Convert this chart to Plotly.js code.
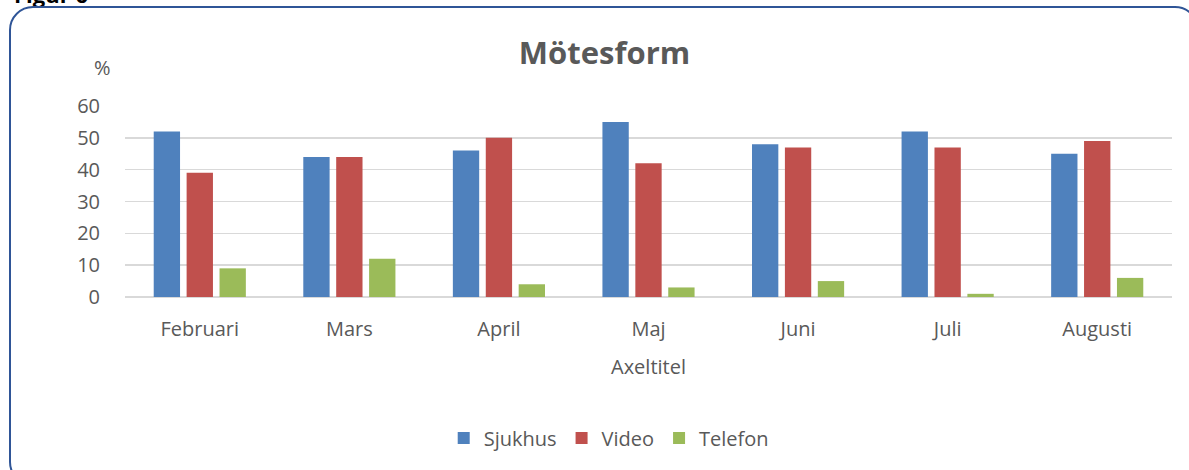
<!DOCTYPE html>
<html>
<head>
<meta charset="utf-8">
<script src="https://cdn.plot.ly/plotly-3.0.1.min.js"></script>
<style>
  html, body { margin: 0; padding: 0; background: #fff; overflow: hidden; }
  #wrap { position: relative; width: 1189px; height: 470px; overflow: hidden; background: #fff; }
  #frame { position: absolute; left: 9px; top: 6px; width: 1190px; height: 480px;
           border: 2.5px solid #2F5597; border-radius: 24px; box-sizing: border-box; }
  #fig { position: absolute; left: 0; top: 0; width: 1189px; height: 470px; }
  #cut { position: absolute; left: 14px; top: -21px; font: bold 22px "Open Sans", sans-serif; color: #000; }
</style>
</head>
<body>
<div id="wrap">
  <div id="cut">Figur 6</div>
  <div id="frame"></div>
  <div id="fig"></div>
</div>
<script>
const categories = ["Februari", "Mars", "April", "Maj", "Juni", "Juli", "Augusti"];
const sjukhus = [52, 44, 46, 55, 48, 52, 45];
const video   = [39, 44, 50, 42, 47, 47, 49];
const telefon = [9, 12, 4, 3, 5, 1, 6];
const seriesNames = ["Sjukhus", "Video", "Telefon"];
const yTicks = [0, 10, 20, 30, 40, 50, 60];

const colors = ["#4F81BD", "#C0504D", "#9BBB59"];
const fontFam = "'Open Sans', 'Liberation Sans', sans-serif";
const grey = "#595959";

const traces = [sjukhus, video, telefon].map((vals, i) => ({
  type: "bar",
  name: seriesNames[i],
  x: categories,
  y: vals,
  marker: { color: colors[i] },
  hoverinfo: "skip"
}));

const layout = {
  width: 1189, height: 470,
  margin: { l: 125, r: 17, t: 106, b: 173 },
  paper_bgcolor: "rgba(0,0,0,0)",
  plot_bgcolor: "rgba(0,0,0,0)",
  barmode: "group",
  bargap: 0.34,
  bargroupgap: 0.2,
  font: { family: fontFam, color: grey, size: 20 },
  title: { text: "<b>Mötesform</b>", x: 0.458, xref: "paper", xanchor: "center",
           y: 52, yref: "container", yanchor: "middle",
           font: { family: fontFam, size: 31, color: grey } },
  xaxis: {
    type: "category",
    tickfont: { family: fontFam, size: 20, color: grey },
    ticks: "outside", ticklen: 14, tickcolor: "rgba(0,0,0,0)",
    showgrid: false, zeroline: false, showline: false,
    title: { text: "Axeltitel", standoff: 18, font: { family: fontFam, size: 20, color: grey } }
  },
  yaxis: {
    range: [0, 60],
    tickvals: yTicks,
    ticktext: yTicks.map(String),
    tickfont: { family: fontFam, size: 20, color: grey },
    showgrid: true, gridcolor: "#D9D9D9", gridwidth: 1.5,
    zeroline: true, zerolinecolor: "#D9D9D9", zerolinewidth: 1.5,
    ticks: "outside", ticklen: 20, tickcolor: "rgba(0,0,0,0)", showline: false,
    fixedrange: true
  },
  legend: {
    orientation: "h", x: 0.462, xanchor: "center", y: -0.738, yanchor: "middle",
    font: { family: fontFam, size: 20, color: grey },
    itemwidth: 30, traceorder: "normal"
  },
  annotations: [{
    text: "%", xref: "paper", yref: "paper", x: -0.0215, y: 1.2, showarrow: false,
    font: { family: fontFam, size: 20, color: grey }, xanchor: "center", yanchor: "middle"
  }],
  showlegend: true
};

Plotly.newPlot("fig", traces, layout, { displayModeBar: false, staticPlot: true });
</script>
</body>
</html>
